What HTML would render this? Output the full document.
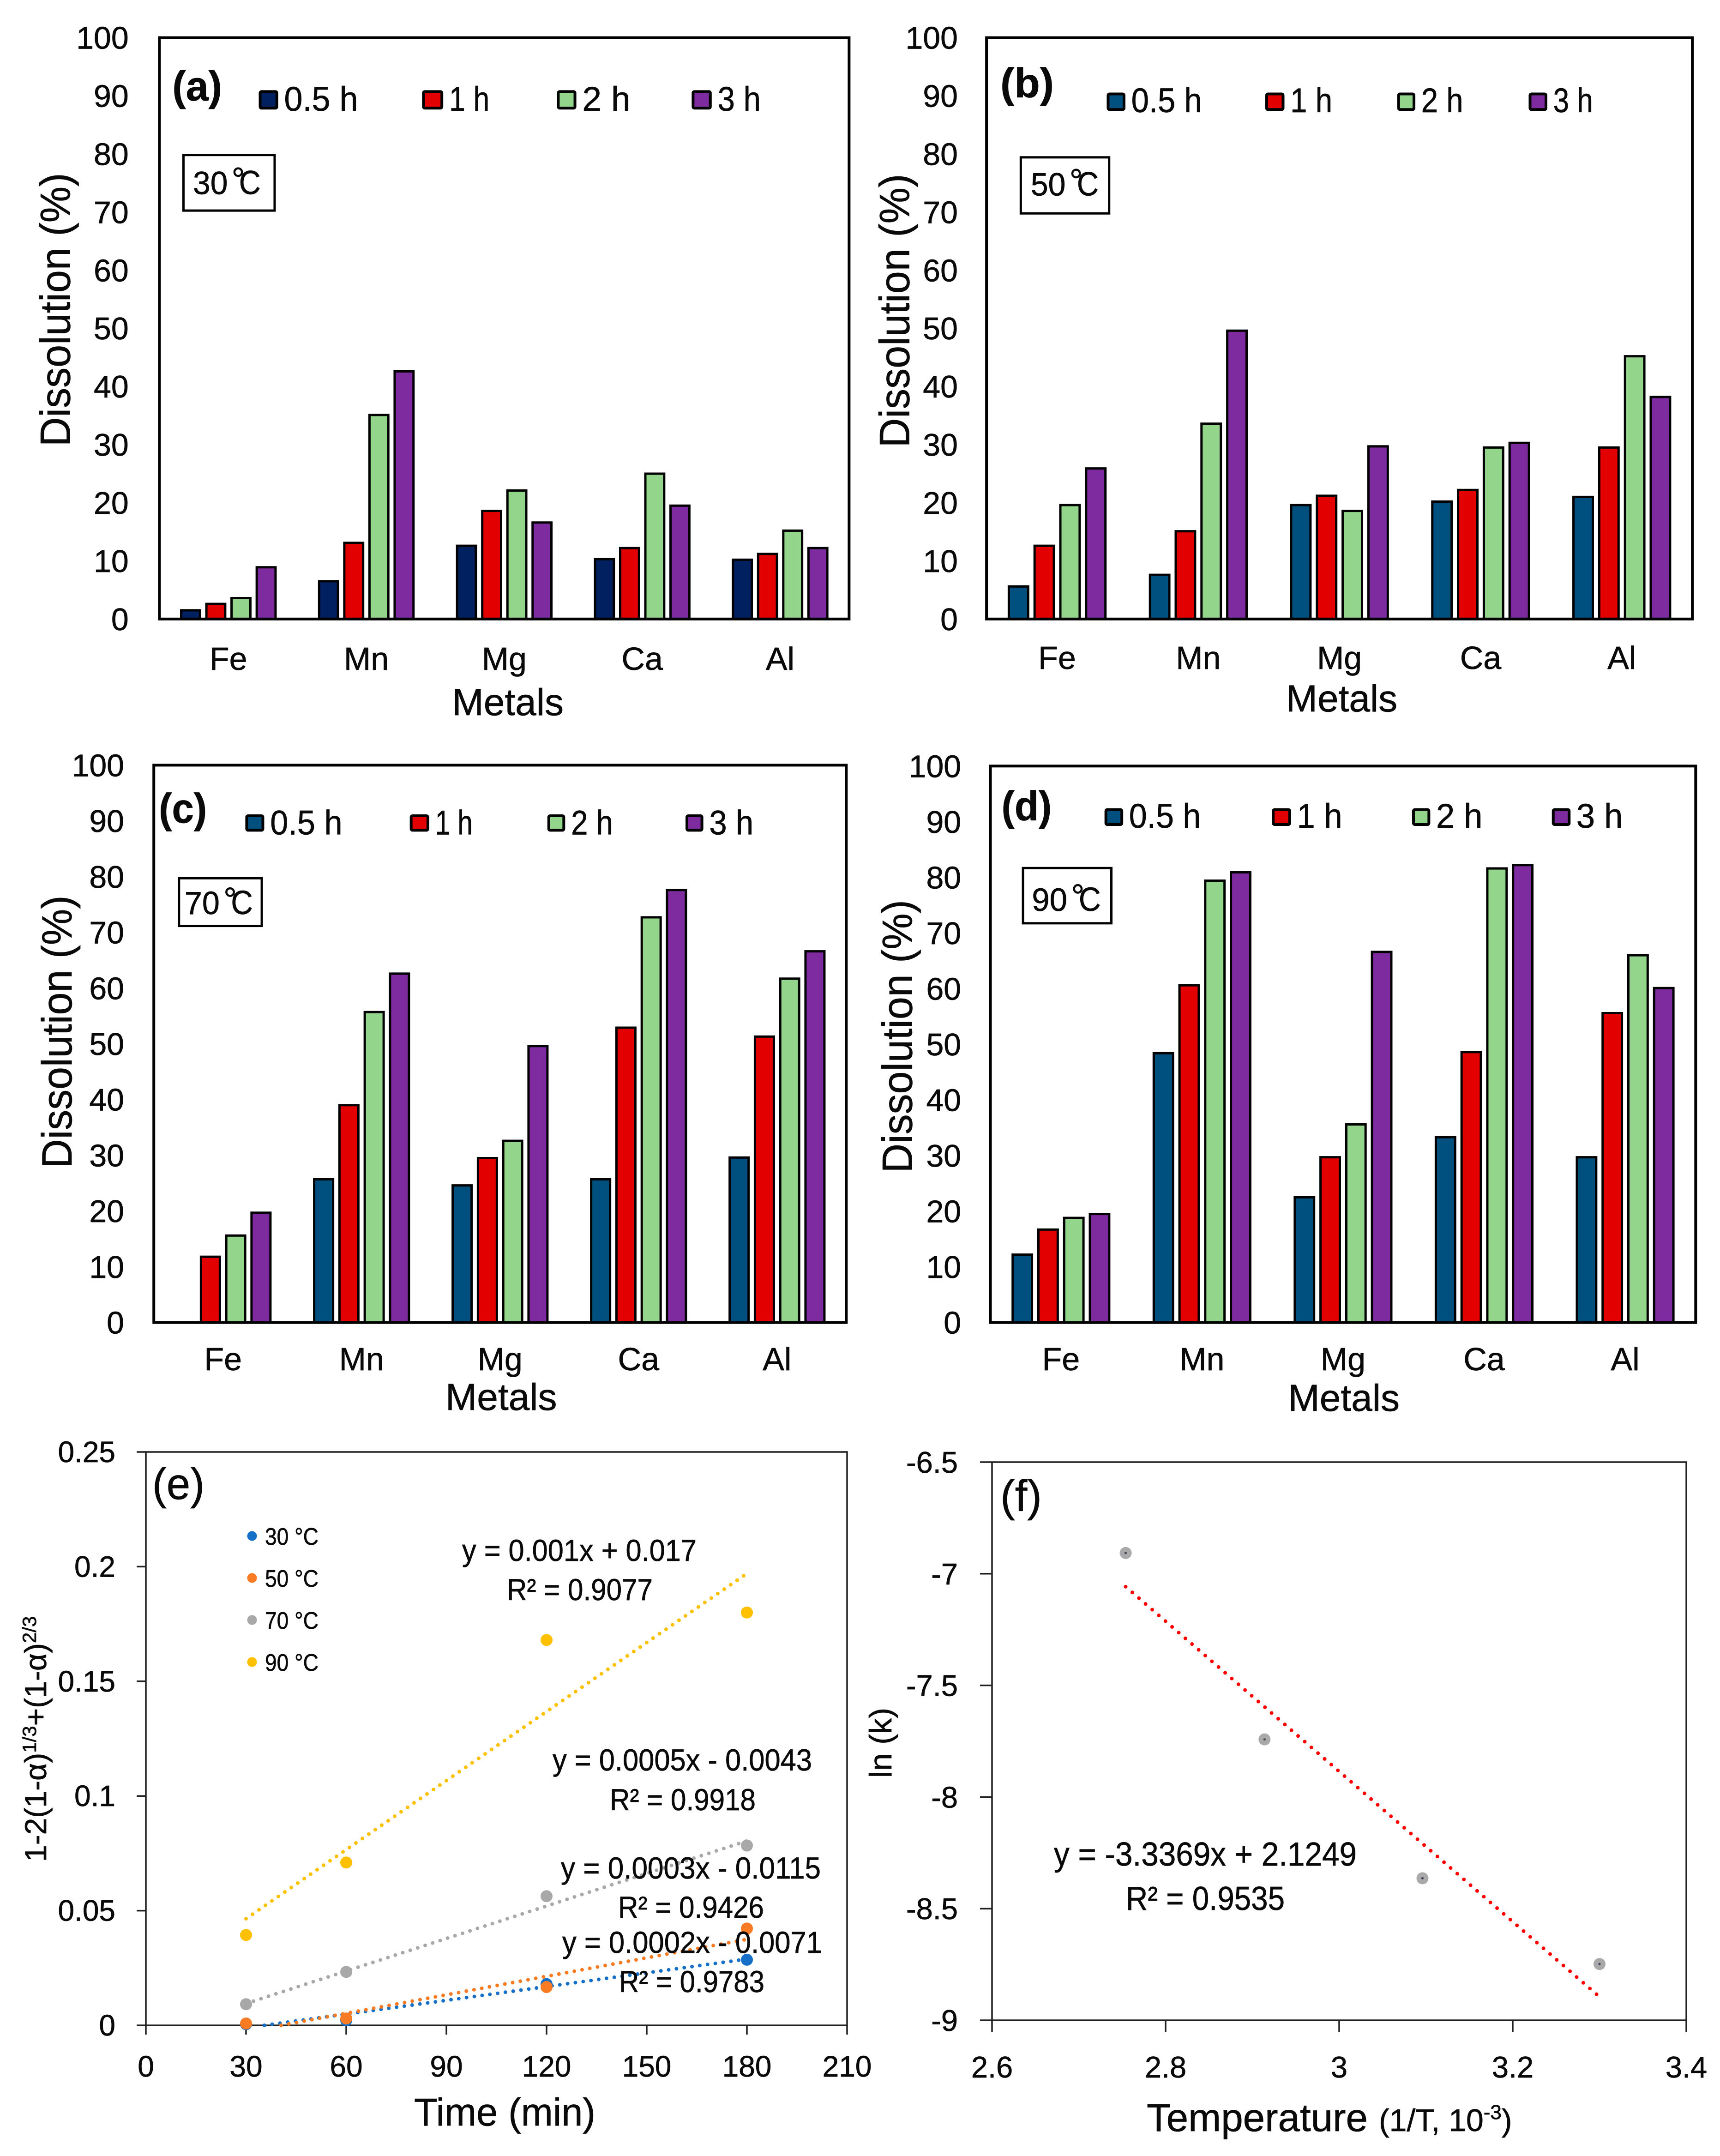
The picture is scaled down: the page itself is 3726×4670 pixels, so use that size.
<!DOCTYPE html>
<html lang="en">
<head>
<meta charset="utf-8">
<title>Metal dissolution and kinetics charts</title>
<style>
html,body{margin:0;padding:0;background:#fff;}
svg{display:block;}
text{font-family:"Liberation Sans","Noto Sans CJK SC",sans-serif;fill:#0a0a0a;stroke:#0a0a0a;stroke-width:0.7px;}
</style>
</head>
<body>
<svg id="figure" xmlns="http://www.w3.org/2000/svg" width="3726" height="4670" viewBox="0 0 3726 4670">
<rect x="0" y="0" width="3726" height="4670" fill="#ffffff"/>
</svg>
<script>
/* ---------- shared categories and tick labels ---------- */
const metals = ["Fe","Mn","Mg","Ca","Al"];
const durations = ["0.5 h","1 h","2 h","3 h"];
const dissolutionTicks = [0,10,20,30,40,50,60,70,80,90,100];

/* ---------- bar values (% dissolved), order follows metals ---------- */
const t30_h05 = [1.5,6.5,12.6,10.3,10.2];
const t30_h1  = [2.6,13.1,18.6,12.2,11.2];
const t30_h2  = [3.6,35.1,22.1,25.0,15.2];
const t30_h3  = [8.9,42.6,16.6,19.5,12.2];

const t50_h05 = [5.6,7.6,19.6,20.2,21.0];
const t50_h1  = [12.6,15.1,21.2,22.2,29.5];
const t50_h2  = [19.6,33.6,18.6,29.5,45.2];
const t50_h3  = [25.9,49.6,29.7,30.3,38.2];

const t70_h05 = [0,25.7,24.6,25.7,29.6];
const t70_h1  = [11.8,39.0,29.5,52.9,51.3];
const t70_h2  = [15.6,55.7,32.6,72.7,61.7];
const t70_h3  = [19.7,62.6,49.6,77.6,66.6];

const t90_h05 = [12.2,48.4,22.5,33.3,29.7];
const t90_h1  = [16.7,60.6,29.7,48.6,55.6];
const t90_h2  = [18.8,79.4,35.6,81.6,66.0];
const t90_h3  = [19.5,80.9,66.6,82.2,60.1];

/* ---------- panel (e) kinetics ---------- */
const timeTicks = [0,30,60,90,120,150,180,210];
const kineticTicks = [0,0.05,0.1,0.15,0.2,0.25];
const sampleTimes = [30,60,120,180];
const kinetic30 = [0.0005,0.0022,0.018,0.0286];
const kinetic50 = [0.0008,0.003,0.0167,0.0422];
const kinetic70 = [0.0092,0.0233,0.0563,0.0784];
const kinetic90 = [0.0394,0.071,0.168,0.18];
const trendTimes30 = [35.5,180];
const trendVals30 = [0,0.0289];
const trendTimes50 = [40.5,180];
const trendVals50 = [0,0.0375];
const trendTimes70 = [30,180];
const trendVals70 = [0.0095,0.0804];
const trendTimes90 = [30,180];
const trendVals90 = [0.0465,0.197];
const kineticLegend = ["30 °C","50 °C","70 °C","90 °C"];

/* ---------- panel (f) Arrhenius ---------- */
const tempTicks = [2.6,2.8,3,3.2,3.4];
const lnkTicks = [-6.5,-7,-7.5,-8,-8.5,-9];
const inverseT = [2.754,2.914,3.096,3.30];
const lnK = [-6.907,-7.742,-8.364,-8.748];
const trendInverseT = [2.754,3.30];
const trendLnK = [-7.058,-8.895];

const NS = "http://www.w3.org/2000/svg";
const root = document.getElementById("figure");
function mk(tag, attrs, parent){
  const node = document.createElementNS(NS, tag);
  for (const k in attrs) node.setAttribute(k, attrs[k]);
  (parent || root).appendChild(node);
  return node;
}
function group(parent){ return mk("g", {}, parent); }
function txt(parent, x, y, str, size, extra){
  const a = Object.assign({x:x, y:y, "font-size":size}, extra || {});
  const t = mk("text", a, parent);
  t.textContent = str;
  return t;
}

/* ---------- bar panels ---------- */
const GREEN="#93d58a", RED="#e30000", PURPLE="#7f2ba0";
const barPanels = [
 {id:"a", ox:0, oy:0, sx:1.2117, sy:1.0204, L:285,R:1518,T:80,B:1314, tickR:230, catBase:1422,
  mCx:908, mBase:1518, dBase:125, dTop:370, dBot:945, c0:"#002060",
  series:[t30_h05,t30_h1,t30_h2,t30_h3],
  letter:"(a)", lx0:308, lx1:397, lBase:213,
  leg:[[463,508,640],[755,803,875],[996,1041,1127],[1237,1283,1360]], legT:192, legB:232, legBase:235,
  box:[328,491,329,447], tempVal:"30", tx0:345, tx1:466, tBase:412},
 {id:"b", ox:1850, oy:0, sx:1.1964, sy:1.0204, L:240,R:1518,T:80,B:1314, tickR:188, catBase:1420,
  mCx:883, mBase:1510, dBase:100, dTop:372, dBot:947, c0:"#00507f",
  series:[t50_h05,t50_h1,t50_h2,t50_h3],
  letter:"(b)", lx0:265, lx1:362, lBase:207,
  leg:[[458,502,630],[745,790,866],[984,1027,1103],[1222,1266,1338]], legT:197, legB:235, legBase:238,
  box:[302,462,334,453], tempVal:"50", tx0:320, tx1:443, tBase:415},
 {id:"c", ox:0, oy:1600, sx:1.2117, sy:0.9566, L:275,R:1513,T:60,B:1322, tickR:222, catBase:1430,
  mCx:896, mBase:1520, dBase:128, dTop:358, dBot:970, c0:"#00507f",
  series:[t70_h05,t70_h1,t70_h2,t70_h3],
  letter:"(c)", lx0:284, lx1:370, lBase:190,
  leg:[[439,483,612],[733,778,845],[979,1021,1096],[1226,1268,1347]], legT:172, legB:210, legBase:217,
  box:[320,468,316,424], tempVal:"70", tx0:330, tx1:452, tBase:397},
 {id:"d", ox:1850, oy:1600, sx:1.1964, sy:0.9566, L:247,R:1524,T:62,B:1322, tickR:194, catBase:1430,
  mCx:887, mBase:1522, dBase:105, dTop:368, dBot:980, c0:"#00507f",
  series:[t90_h05,t90_h1,t90_h2,t90_h3],
  letter:"(d)", lx0:267, lx1:358, lBase:185,
  leg:[[454,498,628],[757,802,884],[1011,1054,1138],[1264,1308,1392]], legT:158, legB:197, legBase:202,
  box:[306,466,293,418], tempVal:"90", tx0:322, tx1:447, tBase:390}
];

barPanels.forEach(function(p){
  const X = z => p.ox + z*p.sx;
  const Y = z => p.oy + z*p.sy;
  const left=X(p.L), right=X(p.R), top=Y(p.T), bottom=Y(p.B);
  const yScale = v => bottom - (bottom-top)*v/100;
  const band = (right-left)/metals.length;
  const pitch = band*0.1825;
  const sw = 5;
  const outer = pitch*0.84;
  const colors = [p.c0,RED,GREEN,PURPLE];

  const panel = group();
  
  

  p.series.forEach(function(vals, s){
    const sg = group(panel);
    
    
    vals.forEach(function(v, c){
      const cx = left + band*(c+0.5);
      const x = cx + (s-1.5)*pitch - outer/2;
      const yTop = yScale(v);
      const bar = mk("rect", {x:x+sw/2, y:yTop, width:outer-sw, height:Math.max(0,bottom-yTop),
        fill:colors[s], stroke:"#000", "stroke-width":sw}, sg);
      
      
    });
  });

  const frame = mk("rect", {x:left, y:top, width:right-left, height:bottom-top, fill:"none", stroke:"#000", "stroke-width":6}, panel);
  
  

  dissolutionTicks.forEach(function(v){
    const t = txt(panel, X(p.tickR), yScale(v)+24, String(v), 68, {"text-anchor":"end"});
    
    
  });

  metals.forEach(function(m, i){
    const t = txt(panel, left+band*(i+0.5), Y(p.catBase), m, 70, {"text-anchor":"middle"});
    
    
  });

  const xTitle = txt(panel, X(p.mCx), Y(p.mBase), "Metals", 82, {"text-anchor":"middle"});
  
  

  const bx = X(p.dBase), by = (Y(p.dTop)+Y(p.dBot))/2;
  const yTitle = txt(panel, bx, by, "Dissolution (%)", 92, {"text-anchor":"middle",
    transform:"rotate(-90 "+bx+" "+by+")", textLength:Y(p.dBot)-Y(p.dTop)+6, lengthAdjust:"spacingAndGlyphs"});
  
  

  const letter = txt(panel, X(p.lx0), Y(p.lBase), p.letter, 90, {"font-weight":"bold", textLength:X(p.lx1)-X(p.lx0), lengthAdjust:"spacingAndGlyphs"});
  
  

  p.leg.forEach(function(e, i){
    const sq = mk("rect", {x:X(e[0])+2.5, y:Y(p.legT)+2.5, width:(e[1]-e[0]-11)*p.sx-5, height:(p.legB-p.legT)*p.sy-5,
      fill:colors[i], stroke:"#000", "stroke-width":6, rx:3}, panel);
    
    
    const lab = txt(panel, X(e[1]), Y(p.legBase), durations[i], 74, {textLength:X(e[2])-X(e[1]), lengthAdjust:"spacingAndGlyphs"});
    
    
  });

  const b = p.box;
  const box = mk("rect", {x:X(b[0]), y:Y(b[2]), width:X(b[1])-X(b[0]), height:Y(b[3])-Y(b[2]), fill:"#fff", stroke:"#000", "stroke-width":5}, panel);
  
  
  const tx = X(p.tx0), tw = X(p.tx1)-X(p.tx0), tb = Y(p.tBase);
  const tempValue = txt(panel, tx, tb, p.tempVal, 70, {textLength:tw*0.514, lengthAdjust:"spacingAndGlyphs"});
  
  
  const tempDeg = txt(panel, tx+tw*0.57, tb-7, "°", 72, {});
  
  
  const tempUnit = txt(panel, tx+tw*0.68, tb, "C", 72, {textLength:tw*0.32, lengthAdjust:"spacingAndGlyphs"});
  
  
});

/* ---------- panel (e) ---------- */
(function(){
  const left=316, right=1835, top=3145, bottom=4387;
  const xS = v => left + (right-left)*v/210;
  const yS = v => bottom - (bottom-top)*v/0.25;
  const panel = group();
  
  

  const frame = mk("rect", {x:left, y:top, width:right-left, height:bottom-top, fill:"none", stroke:"#222", "stroke-width":3.5}, panel);
  
  

  kineticTicks.forEach(function(v){
    const m = mk("line", {x1:left-20, x2:left, y1:yS(v), y2:yS(v), stroke:"#222", "stroke-width":3.5}, panel);
    
    
    const t = txt(panel, 250, yS(v)+22, String(v), 64, {"text-anchor":"end"});
    
    
  });
  timeTicks.forEach(function(v){
    const m = mk("line", {x1:xS(v), x2:xS(v), y1:bottom, y2:bottom+20, stroke:"#222", "stroke-width":3.5}, panel);
    
    
    const t = txt(panel, xS(v), 4498, String(v), 64, {"text-anchor":"middle"});
    
    
  });

  const groups = [
    [kinetic30, trendTimes30, trendVals30, "#1670c8"],
    [kinetic50, trendTimes50, trendVals50, "#f97b23"],
    [kinetic70, trendTimes70, trendVals70, "#a8a8a8"],
    [kinetic90, trendTimes90, trendVals90, "#ffc000"]
  ];
  groups.forEach(function(g, i){
    const trend = mk("line", {x1:xS(g[1][0]), y1:yS(g[2][0]), x2:xS(g[1][1]), y2:yS(g[2][1]),
      stroke:g[3], "stroke-width":8, "stroke-dasharray":"0 17", "stroke-linecap":"round"}, panel);
    
    
    g[0].forEach(function(v, j){
      const pt = mk("circle", {cx:xS(sampleTimes[j]), cy:yS(v), r:13, fill:g[3]}, panel);
      
      
    });
    const ly = 3327 + i*91;
    const ld = mk("circle", {cx:546, cy:ly, r:10.5, fill:g[3]}, panel);
    
    
    const lt = txt(panel, 574, ly+19, kineticLegend[i], 52, {textLength:116, lengthAdjust:"spacingAndGlyphs", fill:"#222"});
    
    
  });

  const notes = [
    [1001,1509,3381,"y = 0.001x + 0.017"],[1098,1414,3466,"R² = 0.9077"],
    [1197,1759,3835,"y = 0.0005x - 0.0043"],[1321,1637,3921,"R² = 0.9918"],
    [1215,1778,4069,"y = 0.0003x - 0.0115"],[1339,1655,4154,"R² = 0.9426"],
    [1218,1781,4230,"y = 0.0002x - 0.0071"],[1341,1656,4315,"R² = 0.9783"]
  ];
  notes.forEach(function(n){
    const t = txt(panel, n[0], n[2], n[3], 66, {textLength:n[1]-n[0], lengthAdjust:"spacingAndGlyphs"});
    
    
  });

  const letter = txt(panel, 330, 3247, "(e)", 96, {textLength:113, lengthAdjust:"spacingAndGlyphs"});
  
  

  const xTitle = txt(panel, 897, 4604, "Time (min)", 84, {textLength:393, lengthAdjust:"spacingAndGlyphs"});
  
  

  const yTitle = mk("text", {x:100, y:4033, "font-size":66, transform:"rotate(-90 100 4033)"}, panel);
  
  
  [["1-2(1-α)",0,66],["1/3",-22,42],["+(1-α)",22,66],["2/3",-22,42]].forEach(function(part){
    const s = mk("tspan", {dy:part[1], "font-size":part[2]}, yTitle);
    s.textContent = part[0];
  });
})();

/* ---------- panel (f) ---------- */
(function(){
  const left=2149, right=3653, top=3167, bottom=4376;
  const xS = v => left + (right-left)*(v-2.6)/0.8;
  const yS = v => top + (bottom-top)*(-6.5-v)/2.5;
  const panel = group();
  
  

  const frame = mk("rect", {x:left, y:top, width:right-left, height:bottom-top, fill:"none", stroke:"#222", "stroke-width":3.5}, panel);
  
  

  lnkTicks.forEach(function(v){
    const m = mk("line", {x1:left-26, x2:left, y1:yS(v), y2:yS(v), stroke:"#222", "stroke-width":3.5}, panel);
    
    
    const t = txt(panel, 2075, yS(v)+23, String(v), 65, {"text-anchor":"end"});
    
    
  });
  tempTicks.forEach(function(v){
    const m = mk("line", {x1:xS(v), x2:xS(v), y1:bottom, y2:bottom+26, stroke:"#222", "stroke-width":3.5}, panel);
    
    
    const t = txt(panel, xS(v), 4500, String(v), 65, {"text-anchor":"middle"});
    
    
  });

  const trend = mk("line", {x1:xS(trendInverseT[0]), y1:yS(trendLnK[0]), x2:xS(trendInverseT[1]), y2:yS(trendLnK[1]),
    stroke:"#ff0000", "stroke-width":8, "stroke-dasharray":"0 19", "stroke-linecap":"round"}, panel);
  
  

  inverseT.forEach(function(v, i){
    const pt = mk("circle", {cx:xS(v), cy:yS(lnK[i]), r:13, fill:"#a9a9a9"}, panel);
    
    
    const c = mk("circle", {cx:xS(v), cy:yS(lnK[i]), r:2.5, fill:"#445"}, panel);
    
    
  });

  const eq = txt(panel, 2283, 4041, "y = -3.3369x + 2.1249", 72, {textLength:656, lengthAdjust:"spacingAndGlyphs"});
  
  
  const r2 = txt(panel, 2439, 4137, "R² = 0.9535", 72, {textLength:344, lengthAdjust:"spacingAndGlyphs"});
  
  

  const letter = txt(panel, 2167, 3273, "(f)", 96, {textLength:90, lengthAdjust:"spacingAndGlyphs"});
  
  

  const yTitle = txt(panel, 1931, 3775, "ln (k)", 68, {"text-anchor":"middle", transform:"rotate(-90 1931 3775)", textLength:152, lengthAdjust:"spacingAndGlyphs"});
  
  

  const xTitle = txt(panel, 2484, 4616, "Temperature", 84, {textLength:479, lengthAdjust:"spacingAndGlyphs"});
  
  

  const unit = mk("text", {x:2987, y:4616, "font-size":68}, panel);
  
  
  [["(1/T, 10",0,68],["-3",-26,44],[")",26,68]].forEach(function(part){
    const s = mk("tspan", {dy:part[1], "font-size":part[2]}, unit);
    s.textContent = part[0];
  });
})();
</script>
</body>
</html>
